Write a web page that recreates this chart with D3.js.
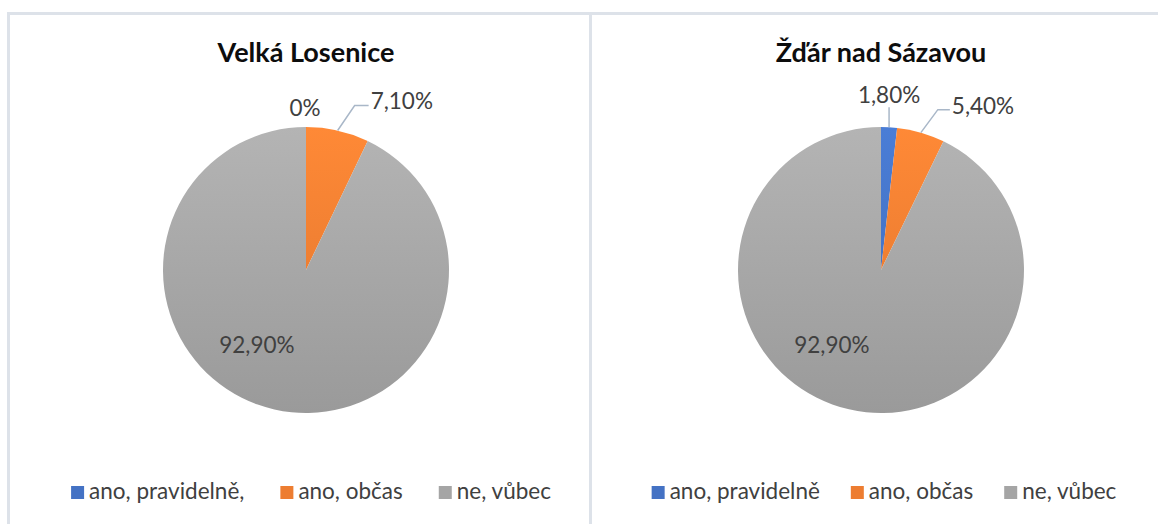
<!DOCTYPE html>
<html>
<head>
<meta charset="utf-8">
<script src="https://d3js.org/d3.v7.min.js"></script>
<style>
  body { margin: 0; background: #fff; }
  text { font-family: Lato, "Open Sans", sans-serif; }
</style>
</head>
<body>
<script>
// data
const categories = ["ano, pravidelně", "ano, občas", "ne, vůbec"];
const titles = ["Velká Losenice", "Žďár nad Sázavou"];
const valuesLosenice = [0, 7.1, 92.9];
const valuesZdar = [1.8, 5.4, 92.9];
const legendLabels = [["ano, pravidelně,", "ano, občas", "ne, vůbec"],
                      ["ano, pravidelně", "ano, občas", "ne, vůbec"]];

const width = 1158, height = 524;
const colors = ["#4472C4", "#ED7D31", "#A5A5A5"];

const svg = d3.select("body").append("svg")
    .attr("width", width)
    .attr("height", height);

// gradients, lighter at the top like the Office fill
const defs = svg.append("defs");

// panel borders
const borderColor = "#DDE2E9";
svg.append("line").attr("x1", 8).attr("x2", 1158).attr("y1", 13.5).attr("y2", 13.5)
    .attr("stroke", borderColor).attr("stroke-width", 3);
svg.append("line").attr("x1", 8.5).attr("x2", 8.5).attr("y1", 12).attr("y2", 524)
    .attr("stroke", borderColor).attr("stroke-width", 3);
svg.append("line").attr("x1", 590.5).attr("x2", 590.5).attr("y1", 12).attr("y2", 524)
    .attr("stroke", borderColor).attr("stroke-width", 3);

const radius = 143;
const pie = d3.pie().sort(null).value(d => d);
const arc = d3.arc().innerRadius(0).outerRadius(radius);
const edge = d3.arc().innerRadius(radius).outerRadius(radius);
const labelSize = 22.5;

// label placement per chart: inside label (angle deg, fraction of r) and outside label offsets
const charts = [
  { values: valuesLosenice, cx: 306, cy: 270, legendCx: 311, gap: 36,
    labels: [
      { type: "plain", dx: -1, dy: -19 },
      { type: "elbow", ex: 17, ey: -25, hx: 14 },
      { type: "inside", angle: 213, f: 0.63 }
    ] },
  { values: valuesZdar, cx: 881, cy: 270, legendCx: 884, gap: 31,
    labels: [
      { type: "elbow", ex: 0, ey: -20, hx: 0 },
      { type: "elbow", ex: 17, ey: -23, hx: 12 },
      { type: "inside", angle: 213, f: 0.63 }
    ] }
];

const fmt = v => (v === 0 ? "0" : d3.format(".2f")(v).replace(".", ",")) + "%";

charts.forEach((c, ci) => {
  const g = svg.append("g").attr("transform", `translate(${c.cx},${c.cy})`);

  colors.forEach((col, i) => {
    const gr = defs.append("linearGradient")
        .attr("id", `grad${ci}_${i}`)
        .attr("gradientUnits", "userSpaceOnUse")
        .attr("x1", 0).attr("x2", 0)
        .attr("y1", -radius).attr("y2", radius);
    gr.append("stop").attr("offset", "0%").attr("stop-color", d3.color(col).brighter(0.25));
    gr.append("stop").attr("offset", "100%").attr("stop-color", d3.color(col).darker(0.2));
  });

  svg.append("text")
      .attr("x", c.cx).attr("y", 62)
      .attr("text-anchor", "middle")
      .attr("font-size", 27).attr("font-weight", "bold")
      .attr("fill", "#0D0D0D")
      .text(titles[ci]);

  const arcs = pie(c.values);
  g.selectAll("path.slice")
    .data(arcs)
    .join("path")
      .attr("class", "slice")
      .attr("d", arc)
      .attr("fill", (d, i) => `url(#grad${ci}_${i})`);

  arcs.forEach((d, i) => {
    const L = c.labels[i];
    const txt = fmt(d.data);
    if (L.type === "inside") {
      const a = L.angle * Math.PI / 180;
      g.append("text")
          .attr("x", Math.sin(a) * radius * L.f)
          .attr("y", -Math.cos(a) * radius * L.f)
          .attr("dy", "0.35em")
          .attr("text-anchor", "middle")
          .attr("font-size", labelSize).attr("fill", "#404040")
          .text(txt);
    } else {
      const [px, py] = edge.centroid(d);
      if (L.type === "plain") {
        g.append("text")
            .attr("x", px + L.dx).attr("y", py + L.dy)
            .attr("dy", "0.35em")
            .attr("text-anchor", "middle")
            .attr("font-size", labelSize).attr("fill", "#404040")
            .text(txt);
      } else {
        const ex = px + L.ex, ey = py + L.ey;
        g.append("polyline")
            .attr("points", [[px, py], [ex, ey], [ex + L.hx, ey]].map(p => p.join(",")).join(" "))
            .attr("fill", "none").attr("stroke", "#A9B7C8").attr("stroke-width", 1.5);
        if (L.hx > 0) {
          g.append("text")
              .attr("x", ex + L.hx + 2).attr("y", ey - 4)
              .attr("dy", "0.35em")
              .attr("font-size", labelSize).attr("fill", "#404040")
              .text(txt);
        } else {
          g.append("text")
              .attr("x", ex).attr("y", ey - 12)
              .attr("dy", "0.35em")
              .attr("text-anchor", "middle")
              .attr("font-size", labelSize).attr("fill", "#404040")
              .text(txt);
        }
      }
    }
  });

  // legend, centred under the pie
  const lg = svg.append("g");
  const items = legendLabels[ci].map((t, i) => {
    const it = lg.append("g");
    it.append("rect").attr("width", 13).attr("height", 13).attr("y", -13)
        .attr("fill", colors[i]);
    const tx = it.append("text").attr("x", 18).attr("y", 0)
        .attr("font-size", 22.5).attr("fill", "#404040").text(t);
    return { it, w: 18 + tx.node().getComputedTextLength() };
  });
  const total = d3.sum(items, d => d.w) + c.gap * (items.length - 1);
  let x = c.legendCx - total / 2;
  items.forEach(d => {
    d.it.attr("transform", `translate(${x},499)`);
    x += d.w + c.gap;
  });
});
</script>
</body>
</html>
